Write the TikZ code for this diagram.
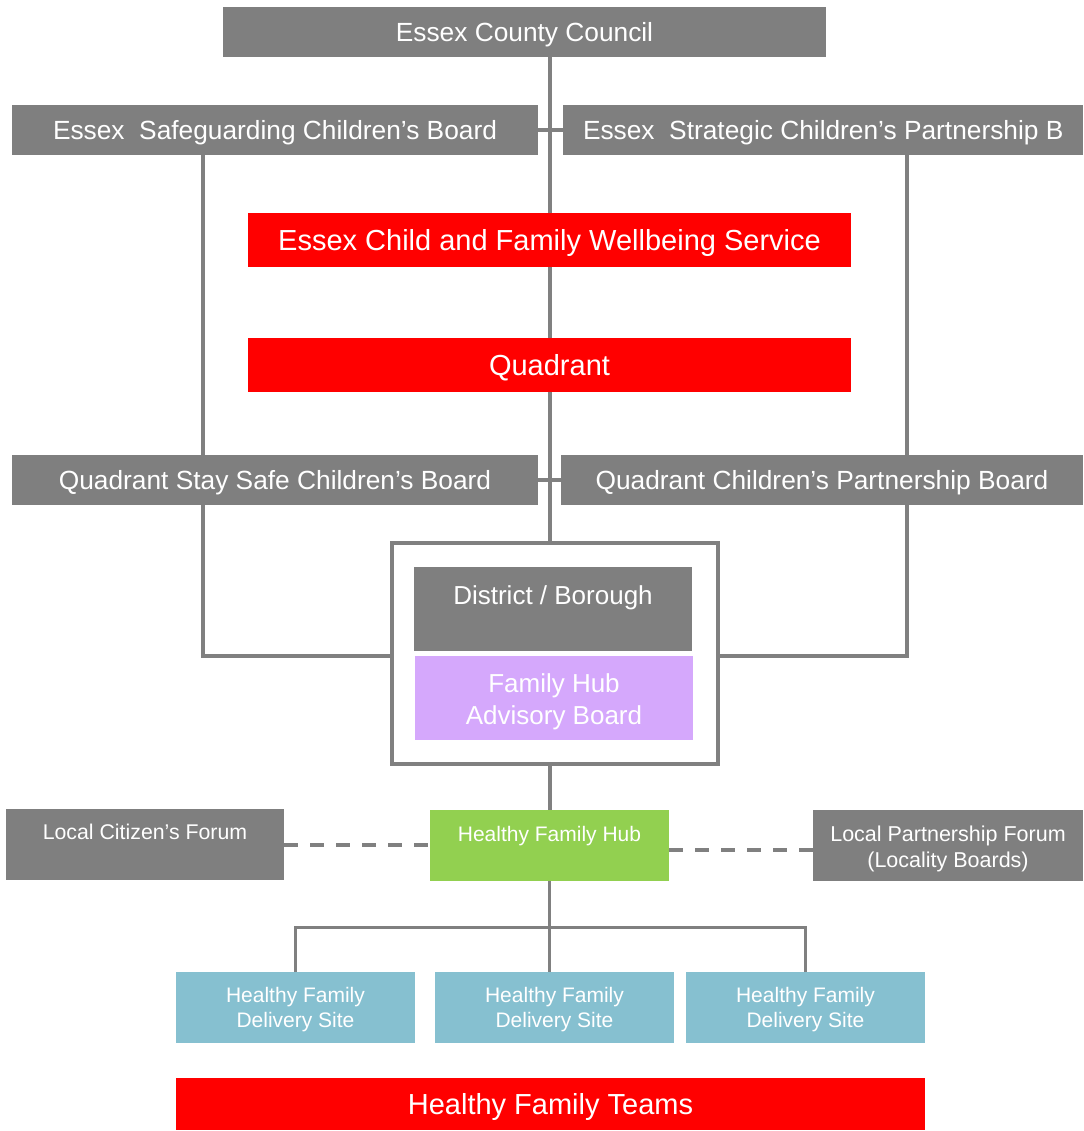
\documentclass[tikz,border=0pt]{standalone}
\usepackage{fontspec}
\setmainfont{Liberation Sans}
\definecolor{boxgray}{HTML}{7F7F7F}
\definecolor{linegray}{HTML}{808080}
\definecolor{hubgreen}{HTML}{92D050}
\definecolor{advlilac}{HTML}{D5A8FC}
\definecolor{siteblue}{HTML}{86C0D0}
\newcommand{\txtsize}[1]{\fontsize{#1}{#1}\selectfont}

\begin{document}
\begin{tikzpicture}[x=1pt, y=-1pt,
  board/.style={fill=boxgray, text=white, inner sep=0pt, minimum height=50pt, font=\txtsize{26.3},
    text height=18.8pt, text depth=0pt},
  redbar/.style={fill=red, text=white, inner sep=0pt, font=\txtsize{29}, text height=20.8pt, text depth=0pt},
  forum/.style={fill=boxgray, text=white, inner sep=0pt, minimum height=71pt},
  site/.style={fill=siteblue, inner sep=0pt, minimum width=239pt, minimum height=71pt},
  toptxt/.style={anchor=north, inner sep=0pt, text=white},
  midtxt/.style={anchor=center, inner sep=0pt, text=white, align=center},
  link/.style={draw=linegray, line width=4pt},
  dashlink/.style={link, dash pattern=on 14pt off 12pt}]
  \useasboundingbox (0,0) rectangle (1083,1131);

  % county level
  \node[board, minimum width=603pt] (ecc) at (524.5,32) {Essex County Council};
  \node[board, minimum width=526pt] (escb) at (275,130) {Essex\ \ Safeguarding Children’s Board};
  \node[board, minimum width=520pt] (escpb) at (823,130)
    {\makebox[480pt][l]{Essex\ \ Strategic Children’s Partnership B}};
  \node[redbar, minimum width=603pt, minimum height=54pt] (ecfws) at (549.5,240) {Essex Child and Family Wellbeing Service};

  % quadrant level
  \node[redbar, minimum width=603pt, minimum height=54pt] (quad) at (549.5,365) {Quadrant};
  \node[board, minimum width=526pt] (qsscb) at (275,480) {Quadrant Stay Safe Children’s Board};
  \node[board, minimum width=522pt] (qcpb) at (822,480) {Quadrant Children’s Partnership Board};

  % district / borough box
  \node[draw=linegray, line width=3.5pt, minimum width=326pt, minimum height=221pt] (outer) at (555,653.5) {};
  \node[fill=boxgray, minimum width=278pt, minimum height=84pt,
    label={[toptxt, yshift=-18.5pt, font=\txtsize{26}]north:District / Borough}] (district) at (553,609) {};
  \node[fill=advlilac, minimum width=278pt, minimum height=84pt,
    label={[midtxt, yshift=-3.5pt, font=\fontsize{26}{32}\selectfont]center:Family Hub\\Advisory Board}] (fhab) at (554,698) {};

  % hub and forums
  \node[fill=hubgreen, inner sep=0pt, minimum width=239pt, minimum height=71pt,
    label={[toptxt, yshift=-16pt, font=\txtsize{21}]north:Healthy Family Hub}] (hub) at (549.5,845.5) {};
  \node[forum, minimum width=278pt,
    label={[toptxt, yshift=-15.5pt, font=\txtsize{21.3}]north:Local Citizen’s Forum}] (lcf) at (145,844.5) {};
  \node[forum, minimum width=270pt,
    label={[midtxt, yshift=-3.5pt, font=\fontsize{21.5}{26}\selectfont]center:Local Partnership Forum\\(Locality Boards)}] (lpf) at (948,845.5) {};

  % delivery sites
  \foreach \i/\x in {1/295.5, 2/554.5, 3/805.5}
    \node[site, label={[midtxt, yshift=-2.5pt, font=\fontsize{21}{25}\selectfont]center:Healthy Family\\Delivery Site}]
      (ds\i) at (\x,1007.5) {};
  \node[redbar, minimum width=749pt, minimum height=52pt] (hft) at (550.5,1104) {Healthy Family Teams};

  % spine
  \draw[link] (ecfws.north |- ecc.south) -- (ecfws.north);
  \draw[link] (escb.east) -- (escpb.west);
  \draw[link] (ecfws.south) -- (quad.north);
  \draw[link] (quad.south) -- (quad.south |- outer.north);
  \draw[link] (qsscb.east) -- (qcpb.west);
  \draw[link] (hub.north |- outer.south) -- (hub.north);

  % side columns down to the district box
  \coordinate (lcol) at (203,656);
  \coordinate (rcol) at (907,656);
  \draw[link] (escb.south -| lcol) -- (qsscb.north -| lcol);
  \draw[link] (qsscb.south -| lcol) -- (lcol) -- (lcol -| outer.west);
  \draw[link] (escpb.south -| rcol) -- (qcpb.north -| rcol);
  \draw[link] (qcpb.south -| rcol) -- (rcol) -- (rcol -| outer.east);

  % forums
  \draw[dashlink] (lcf.east) -- (lcf.east -| hub.west);
  \draw[dashlink] ([yshift=-4.5pt]hub.east) -- ([yshift=-4.5pt]hub.east -| lpf.west);

  % fork to delivery sites
  \coordinate (fork) at (550,927);
  \draw[link, line width=3pt] (hub.south) -- (hub.south |- ds2.north);
  \draw[link, line width=3pt] (ds1.north) |- (fork) -| (ds3.north);
\end{tikzpicture}
\end{document}
